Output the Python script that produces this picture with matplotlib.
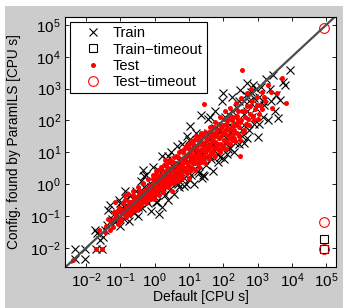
import numpy as np
import matplotlib
matplotlib.use('Agg')
import matplotlib.pyplot as plt
from matplotlib.patches import Rectangle

plt.rcParams['font.family'] = ['Liberation Sans', 'DejaVu Sans']

# Data as (log10 default, log10 ParamILS)
train_edge = [
    (-2.32, -2.03), (-2.03, -2.03), (-2.32, -2.34), (-2.03, -2.34), (-1.71, -2.03),
    (-1.53, -2.03), (-1.74, -1.44), (-1.68, -1.53), (-1.50, -1.65), (-1.39, -1.28),
    (-1.60, -1.75), (-1.45, -1.45),
    (-1.30, -0.65), (-1.35, -0.80), (-1.20, -0.95), (-1.15, -1.20), (-1.05, -0.50),
    (-1.00, -1.30), (-0.95, -0.75), (-0.90, -1.10), (-0.85, -0.45), (-0.80, -0.95),
    (-0.75, -1.15), (-0.70, -0.35), (-0.65, -0.60), (-0.60, -0.90), (-0.55, -0.20),
    (-0.50, -1.00), (-1.25, -1.10), (-0.88, -0.20),
    (-0.45, -0.55), (-0.40, 0.10), (-0.38, -0.75), (-0.30, -0.30), (-0.25, 0.30),
    (-0.20, -0.60), (-0.15, 0.05), (-0.10, -0.85), (-0.05, 0.55), (0.00, -0.40),
    (0.05, -0.55), (0.07, -0.56), (0.10, 0.45), (0.15, -0.20), (0.20, -0.70),
    (0.22, 0.90), (0.25, 0.20), (0.30, -0.35), (0.35, 0.75), (0.40, -0.50),
    (0.45, 0.10), (0.48, 1.00), (-0.35, 0.45), (0.12, -0.95),
    (0.55, -0.30), (0.60, 0.60), (0.65, 1.20), (0.70, -0.10), (0.75, 0.30),
    (0.80, 1.26), (0.85, -0.05), (0.90, 0.80), (0.95, 1.50), (1.00, 0.15),
    (1.03, 1.82), (1.05, 0.55), (1.10, 1.10), (1.15, 0.00), (1.20, 1.60),
    (1.25, 0.40), (1.30, 0.90), (1.35, 2.17), (1.38, 0.20), (1.41, 0.29),
    (1.44, 0.26), (1.45, 1.30), (1.50, 0.60), (0.68, 0.00), (1.18, 0.75),
    (1.55, 2.05), (1.60, 0.90), (1.65, 1.45), (1.70, 0.40), (1.75, 2.30),
    (1.80, 1.10), (1.85, 0.70), (1.90, 1.70), (1.95, 2.60), (2.00, 2.86),
    (2.02, 0.79), (2.05, 1.30), (2.10, 0.95), (2.15, 2.20), (2.20, 1.60),
    (2.25, 2.75), (2.30, 1.00), (2.35, 1.90), (2.40, 2.40), (2.45, 1.25),
    (2.50, 2.95), (1.58, 1.25), (2.12, 1.95),
    (2.55, 1.70), (2.60, 2.20), (2.69, 3.17), (2.70, 1.45), (2.75, 2.60),
    (2.80, 2.90), (2.87, 3.10), (2.90, 1.90), (2.95, 2.40), (3.00, 1.48),
    (3.05, 2.75), (3.10, 3.05), (3.15, 2.10), (3.20, 2.50), (3.30, 2.00),
    (3.35, 3.00), (3.45, 3.42), (3.50, 2.30), (3.55, 2.80), (3.60, 2.08),
    (3.66, 2.64), (3.74, 3.20), (3.95, 3.58), (3.25, 3.30), (2.60, 1.30),
]

train_core = [
    (-0.60, -0.50), (-0.30, -0.10), (0.00, 0.10), (0.30, 0.20), (0.60, 0.50),
    (0.90, 0.70), (1.20, 1.00), (1.50, 1.20), (1.80, 1.50), (2.10, 1.80),
    (2.40, 1.90), (2.70, 2.30), (3.00, 2.50), (-0.20, -0.35), (0.20, -0.10),
    (0.50, 0.30), (0.80, 0.45), (1.10, 0.80), (1.40, 0.95), (1.70, 1.25),
    (2.00, 1.55), (2.30, 2.10), (2.60, 2.60), (2.90, 2.70), (-1.10, -0.95),
    (-0.80, -0.65),
    (-0.90, -0.80), (-0.70, -0.80), (-0.50, -0.70), (-0.40, -0.30), (-0.25, -0.50),
    (-0.10, -0.10), (0.05, -0.30), (0.15, 0.25), (0.25, -0.20), (0.35, 0.30),
    (0.45, -0.15), (0.55, 0.50), (0.65, 0.05), (0.75, 0.70), (0.85, 0.20),
    (0.95, 0.90), (1.05, 0.30), (1.15, 1.15), (1.25, 0.60), (1.35, 1.40),
    (1.45, 0.75), (1.55, 1.60), (1.65, 0.80), (1.75, 1.75), (1.85, 0.95),
    (1.95, 1.20), (2.05, 2.10), (2.15, 1.10), (2.25, 2.30), (2.35, 1.30),
    (2.45, 2.60), (2.55, 1.50), (2.65, 2.80), (2.75, 1.70), (2.85, 2.10),
    (2.95, 3.00), (3.05, 1.90), (3.15, 2.60), (3.40, 2.60), (3.80, 3.10),
    (-1.00, -0.60), (-0.30, 0.25), (0.40, 0.90), (1.00, 1.40), (1.60, 2.10),
    (0.90, 0.00), (1.30, 0.35), (1.90, 0.85), (2.20, 1.15), (2.60, 1.85),
]

test_spread = [
    (-2.38, -2.37), (-1.71, -2.03), (-1.53, -2.03), (-1.62, -1.45), (-1.45, -1.50),
    (-1.42, -1.30), (-1.35, -1.10), (-1.28, -1.18), (-1.20, -0.88), (-1.23, -1.35),
    (-1.12, -1.00), (-1.05, -0.75), (-1.08, -1.25), (-1.15, -0.55), (-0.98, -0.90),
    (-0.92, -0.60), (-0.97, -1.15), (-0.86, -0.34), (-0.82, -0.80), (-0.76, -0.55),
    (-0.84, -1.02), (-0.79, -0.30), (-0.72, -0.66), (-0.66, -0.72), (-0.60, -0.45),
    (-0.69, -0.90), (-0.63, -0.20), (-0.58, -0.56), (-0.52, -0.57), (-0.46, -0.30),
    (-0.55, -0.82), (-0.49, -0.10), (-0.43, -0.45), (-0.50, -0.66), (-0.37, -0.44),
    (-0.31, -0.20), (-0.40, -0.66), (-0.34, 0.05), (-0.28, -0.30), (-0.36, -0.55),
    (-0.22, -0.30), (-0.16, -0.05), (-0.25, -0.50), (-0.19, 0.15), (-0.13, -0.20),
    (-0.21, -0.42), (-0.07, -0.20), (-0.01, 0.05), (-0.10, -0.40), (-0.04, 0.30),
    (0.02, -0.10), (-0.06, 0.15), (0.00, -0.30), (0.08, -0.05), (0.14, 0.20),
    (0.05, -0.30), (0.11, 0.45), (0.17, 0.05), (0.07, 0.30), (0.12, -0.15),
    (0.23, 0.10), (0.29, 0.35), (0.20, -0.15), (0.26, 0.60), (0.32, 0.20),
    (0.22, 0.45), (0.27, 0.00), (0.38, 0.20), (0.44, 0.45), (0.35, 0.00),
    (0.41, 0.70), (0.47, 0.30), (0.37, 0.55), (0.43, 0.10), (0.50, -0.21),
    (0.53, 0.30), (0.59, 0.60), (0.50, 0.10), (0.56, 0.85), (0.62, 0.45),
    (0.52, 0.70), (0.58, 0.20), (0.68, 0.45), (0.74, 0.75), (0.65, 0.20),
    (0.71, 1.00), (0.77, 0.60), (0.67, 0.85), (0.73, 0.30), (0.83, 0.55),
    (0.89, 0.85), (0.80, 0.30), (0.86, 1.10), (0.92, 0.70), (0.82, 1.00),
    (0.88, 0.40), (0.98, 0.70), (1.04, 1.00), (0.95, 0.45), (1.01, 1.25),
    (1.07, 0.85), (0.97, 1.15), (1.03, 0.55), (1.13, 0.80), (1.19, 1.10),
    (1.10, 0.50), (1.16, 1.40), (1.22, 0.95), (1.12, 1.25), (1.18, 0.65),
    (1.28, 0.95), (1.34, 1.25), (1.25, 0.65), (1.31, 1.50), (1.37, 1.10),
    (1.27, 1.40), (1.33, 0.80), (1.44, 2.51), (1.43, 1.05), (1.49, 1.35),
    (1.40, 0.75), (1.46, 1.65), (1.52, 1.20), (1.42, 1.50), (1.48, 0.90),
    (1.58, 1.20), (1.64, 1.50), (1.55, 0.90), (1.61, 1.80), (1.67, 1.35),
    (1.57, 1.65), (1.63, 1.00), (1.73, 1.35), (1.79, 1.65), (1.70, 1.00),
    (1.76, 1.95), (1.82, 1.50), (1.72, 1.80), (1.78, 1.15), (1.88, 1.45),
    (1.94, 1.75), (1.85, 1.10), (1.91, 2.10), (1.97, 1.60), (1.87, 1.90),
    (1.93, 1.25), (2.03, 1.60), (2.09, 1.90), (2.00, 1.20), (2.06, 2.30),
    (2.12, 1.75), (2.02, 2.05), (2.08, 1.35), (2.18, 1.70), (2.24, 2.00),
    (2.15, 1.30), (2.21, 2.40), (2.27, 1.85), (2.17, 2.15), (2.23, 1.50),
    (2.33, 1.85), (2.39, 2.15), (2.30, 1.45), (2.36, 2.55), (2.42, 2.00),
    (2.32, 1.60), (2.48, 1.95), (2.54, 2.30), (2.45, 1.50), (2.51, 2.70),
    (2.49, 0.90), (2.55, 3.60), (2.63, 2.10), (2.69, 2.45), (2.60, 1.70),
    (2.69, 2.86), (2.78, 2.20), (2.84, 2.60), (2.75, 1.85), (2.81, 3.00),
    (2.93, 2.35), (2.99, 2.75), (2.90, 2.00), (3.08, 2.50), (3.14, 2.90),
    (3.05, 2.20), (3.23, 2.60), (3.29, 3.10), (3.42, 2.39), (3.40, 2.90),
    (3.57, 2.86), (3.71, 3.33), (3.83, 2.55), (1.00, 0.20), (0.30, 0.75),
]

test_core = [
    (-1.00, -1.05), (-0.95, -0.80), (-0.90, -0.95), (-0.85, -0.70), (-0.80, -0.90),
    (-0.75, -0.75), (-0.70, -0.55), (-0.65, -0.85), (-0.60, -0.65), (-0.55, -0.40),
    (-0.50, -0.50), (-0.47, -0.75), (-0.42, -0.60), (-0.38, -0.30), (-0.33, -0.50),
    (-0.30, -0.38), (-0.26, -0.15), (-0.24, -0.60), (-0.18, -0.30), (-0.15, -0.45),
    (-0.12, -0.05), (-0.09, -0.28), (-0.03, -0.45), (0.00, -0.15), (0.03, 0.15),
    (0.06, -0.20), (0.09, 0.10), (0.13, -0.35), (0.16, 0.30), (0.19, -0.05),
    (0.21, 0.20), (0.24, -0.25), (0.28, 0.15), (0.31, -0.05), (0.34, 0.40),
    (0.36, 0.10), (0.39, -0.10), (0.42, 0.30), (0.45, 0.00), (0.48, 0.50),
    (0.51, 0.20), (0.54, 0.45), (0.57, 0.05), (0.60, 0.35), (0.63, 0.65),
    (0.66, 0.30), (0.69, 0.10), (0.72, 0.55), (0.75, 0.40), (0.78, 0.80),
    (0.81, 0.20), (0.84, 0.70), (0.87, 0.50), (0.90, 0.90), (0.93, 0.35),
    (0.96, 0.60), (0.99, 0.95), (1.02, 0.40), (1.05, 0.75), (1.08, 1.10),
    (1.11, 0.65), (1.14, 0.95), (1.17, 0.45), (1.20, 0.80), (1.23, 1.20),
    (1.26, 0.85), (1.29, 0.55), (1.32, 1.05), (1.35, 0.70), (1.38, 1.30),
    (1.41, 0.90), (1.44, 1.20), (1.47, 0.65), (1.50, 1.05), (1.53, 1.45),
    (1.56, 1.10), (1.59, 0.80), (1.62, 1.25), (1.65, 0.95), (1.68, 1.60),
    (1.71, 1.15), (1.74, 1.50), (1.77, 0.90), (1.80, 1.30), (1.83, 1.70),
    (1.86, 1.25), (1.89, 1.00), (1.92, 1.50), (1.95, 1.15), (1.98, 1.85),
    (2.01, 1.40), (2.04, 1.70), (2.07, 1.10), (2.10, 1.55), (2.13, 2.00),
    (2.16, 1.45), (2.19, 1.25), (2.22, 1.75), (2.25, 1.40), (2.28, 2.10),
    (2.31, 1.70), (2.34, 1.35), (2.37, 1.90), (2.40, 1.60), (2.43, 2.30),
    (2.46, 1.80), (2.50, 1.40), (2.53, 2.00), (2.57, 1.65), (2.62, 2.30),
    (2.66, 1.90), (2.72, 2.05), (2.77, 2.45), (2.86, 2.15), (2.97, 2.50),
    (3.02, 2.05), (3.12, 2.35), (3.20, 2.75),
    (-1.30, -1.45), (-1.18, -1.10), (-1.10, -0.85), (-1.03, -1.15), (-0.88, -0.50),
    (-0.73, -0.95), (-0.62, -0.35), (-0.57, -0.70), (-0.44, -0.20), (-0.20, -0.15),
    (0.05, 0.40), (0.18, 0.55), (0.33, 0.60), (0.46, 0.75), (0.61, 0.90),
    (0.76, 1.05), (0.91, 1.20), (1.06, 1.35), (1.21, 1.50), (1.36, 1.60),
]

timeout_x = 86400
train_timeout_y = [0.019, 0.0093]
test_timeout_y = [80000, 0.065, 0.0093]
decades = list(range(-2, 6))

train = 10.0 ** np.array(train_edge + train_core)
test = 10.0 ** np.array(test_spread + test_core)

fig = plt.figure(figsize=(3.43, 3.08), dpi=100, facecolor='white')
fig.patches.append(Rectangle((5 / 343, 0), 1, 1 - 6 / 308, transform=fig.transFigure,
                             facecolor='#cccccc', edgecolor='none', zorder=-10))
ax = fig.add_axes([0.19, 0.133, 0.79, 0.812])

ax.plot(train[:, 0], train[:, 1], 'x', color='black', markersize=6,
        markeredgewidth=0.8, label='Train')
ax.plot([timeout_x] * len(train_timeout_y), train_timeout_y, 's', color='black',
        markerfacecolor='none', markersize=5.5, markeredgewidth=0.8, label='Train\u2212timeout')
ax.plot(test[:, 0], test[:, 1], 'o', color='red', markersize=3.6,
        markeredgewidth=0, label='Test')
ax.plot([timeout_x] * len(test_timeout_y), test_timeout_y, 'o', color='red',
        markerfacecolor='none', markersize=7, markeredgewidth=0.8, label='Test\u2212timeout')

lo, hi = 10 ** -2.61, 10 ** 5.29
ax.plot([lo, hi], [lo, hi], color='#4d4d4d', linewidth=1.6)

ax.set_xscale('log')
ax.set_yscale('log')
ax.set_xlim(lo, hi)
ax.set_ylim(10 ** -2.6, 10 ** 5.25)
ticks = [10.0 ** k for k in decades]
labels = [r'$\mathdefault{10^{%d}}$' % k for k in decades]
ax.set_xticks(ticks)
ax.set_xticklabels(labels)
ax.set_yticks(ticks)
ax.set_yticklabels(labels)
ax.minorticks_off()
ax.tick_params(which='both', direction='in', top=True, right=True,
               length=3, width=0.6, labelsize=11, pad=3)
for s in ax.spines.values():
    s.set_linewidth(0.8)

ax.set_xlabel('Default [CPU s]', fontsize=10, labelpad=0)
ax.set_ylabel('Config. found by ParamILS [CPU s]', fontsize=9.8)
ax.yaxis.set_label_coords(-0.163, 0.5)

leg = ax.legend(loc='upper left', bbox_to_anchor=(0.018, 0.98), borderaxespad=0,
                fontsize=10.5, fancybox=False, edgecolor='black', framealpha=1,
                handlelength=2.5, handletextpad=0.15, labelspacing=0.15, borderpad=0.3)
leg.get_frame().set_linewidth(0.8)

fig.savefig('out.png', dpi=100, facecolor=fig.get_facecolor())
